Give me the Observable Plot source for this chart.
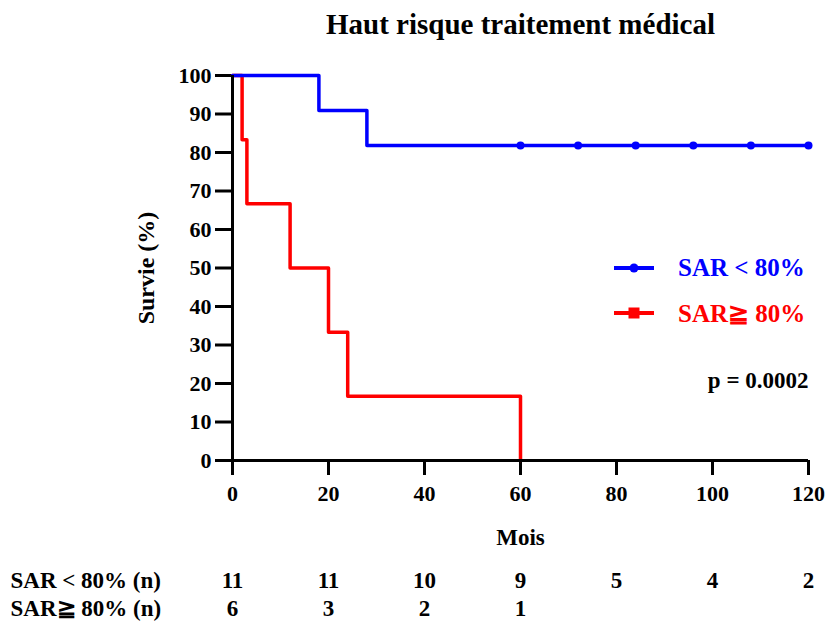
<!DOCTYPE html>
<html>
<head>
<meta charset="utf-8">
<script src="https://cdn.jsdelivr.net/npm/d3@7"></script>
<script src="https://cdn.jsdelivr.net/npm/@observablehq/plot@0.6"></script>
<style>
  html, body { margin: 0; padding: 0; background: #fff; }
  #wrap { position: relative; width: 830px; height: 622px; font-family: "Liberation Serif", "Times New Roman", serif; }
  #legend { position: absolute; left: 612px; top: 250px; font-weight: bold; font-size: 25px; }
  .row { display: flex; align-items: center; height: 36px; margin-bottom: 9px; }
  .row svg { margin-right: 22px; }
</style>
</head>
<body>
<div id="wrap"></div>
<script>
// Data
const titleText = "Haut risque traitement médical";
const groupLabels = ["SAR < 80%", "SAR\u2267 80%"];
const groupColors = ["#0000ff", "#ff0000"];

const lowMonths = [0, 18, 28, 120];
const lowSurvival = [100, 90.9, 81.8, 81.8];
const lowCensorMonths = [60, 72, 84, 96, 108, 120];
const lowCensorSurvival = [81.8, 81.8, 81.8, 81.8, 81.8, 81.8];

const highMonths = [0, 2, 3, 12, 20, 24, 60];
const highSurvival = [100, 83.3, 66.7, 50, 33.3, 16.7, 0];

const xTicks = [0, 20, 40, 60, 80, 100, 120];
const yTicks = [0, 10, 20, 30, 40, 50, 60, 70, 80, 90, 100];

const riskMonthsLow = [0, 20, 40, 60, 80, 100, 120];
const riskLow = [11, 11, 10, 9, 5, 4, 2];
const riskMonthsHigh = [0, 20, 40, 60];
const riskHigh = [6, 3, 2, 1];
const riskRowLabels = ["SAR < 80% (n)", "SAR\u2267 80% (n)"];
const pText = "p = 0.0002";

const low = lowMonths.map((m, i) => ({m, s: lowSurvival[i]}));
const lowCens = lowCensorMonths.map((m, i) => ({m, s: lowCensorSurvival[i]}));
const high = highMonths.map((m, i) => ({m, s: highSurvival[i]}));
const rLow = riskMonthsLow.map((m, i) => ({m, n: riskLow[i]}));
const rHigh = riskMonthsHigh.map((m, i) => ({m, n: riskHigh[i]}));

const font = "Liberation Serif";
const txt = {fontWeight: "bold", fill: "black", lineAnchor: "middle"};
const chart = Plot.plot({
  width: 830,
  height: 622,
  marginLeft: 232,
  marginRight: 22,
  marginTop: 75,
  marginBottom: 162,
  style: {fontFamily: font, background: "white", color: "black"},
  x: {domain: [0, 120]},
  y: {domain: [0, 100]},
  marks: [
    Plot.axisY({ticks: yTicks, tickSize: 17, tickPadding: 4, strokeWidth: 3, fontSize: 22, fontWeight: "bold", label: null}),
    Plot.axisX({ticks: xTicks, tickSize: 15, tickPadding: 10, strokeWidth: 3, fontSize: 22, fontWeight: "bold", label: null}),
    Plot.line(high, {x: "m", y: "s", curve: "step-after", stroke: groupColors[1], strokeWidth: 3.5}),
    Plot.line(low, {x: "m", y: "s", curve: "step-after", stroke: groupColors[0], strokeWidth: 3.5}),
    Plot.dot(lowCens, {x: "m", y: "s", r: 4, fill: groupColors[0]}),
    Plot.ruleX([0], {strokeWidth: 3, stroke: "black"}),
    Plot.ruleY([0], {strokeWidth: 3, stroke: "black"}),
    Plot.text([titleText], {...txt, frameAnchor: "top", dy: -51, fontSize: 29}),
    Plot.text(["Survie (%)"], {...txt, frameAnchor: "left", textAnchor: "middle", dx: -86, rotate: -90, fontSize: 24}),
    Plot.text(["Mois"], {...txt, frameAnchor: "bottom", dy: 77, fontSize: 23}),
    Plot.text([pText], {...txt, frameAnchor: "top-right", dy: 305, textAnchor: "end", fontSize: 23}),
    Plot.text(rLow, {...txt, x: "m", y: () => 0, text: "n", dy: 120, fontSize: 23}),
    Plot.text(rHigh, {...txt, x: "m", y: () => 0, text: "n", dy: 148, fontSize: 23}),
    Plot.text([riskRowLabels[0]], {...txt, frameAnchor: "bottom-left", dx: -222, dy: 120, textAnchor: "start", fontSize: 23}),
    Plot.text([riskRowLabels[1]], {...txt, frameAnchor: "bottom-left", dx: -222, dy: 148, textAnchor: "start", fontSize: 23})
  ]
});
const wrap = document.getElementById("wrap");
wrap.appendChild(chart);

// Legend
const legend = document.createElement("div");
legend.id = "legend";
groupLabels.forEach((lab, i) => {
  const row = document.createElement("div");
  row.className = "row";
  const marker = i === 0
    ? `<circle cx="22" cy="18" r="4.5" fill="${groupColors[i]}"/>`
    : `<rect x="16.5" y="12.5" width="11" height="11" fill="${groupColors[i]}"/>`;
  row.innerHTML = `<svg width="44" height="36"><line x1="2" x2="42" y1="18" y2="18" stroke="${groupColors[i]}" stroke-width="4"/>${marker}</svg><span style="color:${groupColors[i]}">${lab}</span>`;
  legend.appendChild(row);
});
wrap.appendChild(legend);
</script>
</body>
</html>
